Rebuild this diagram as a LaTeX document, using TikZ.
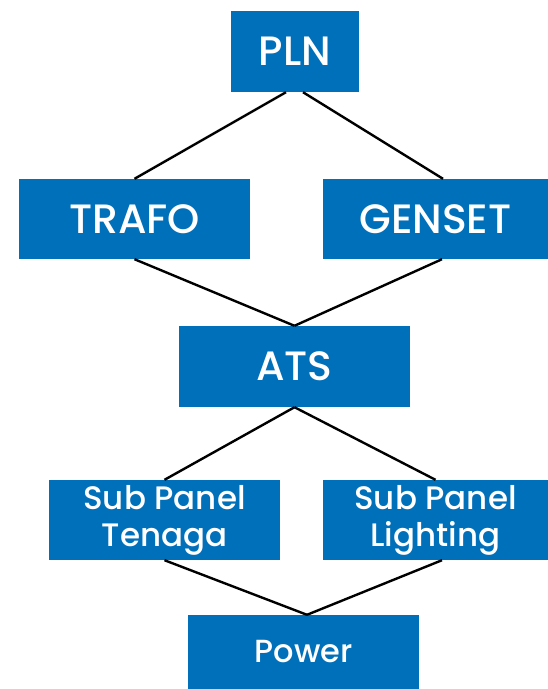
\documentclass[tikz,border=0pt]{standalone}
\usepackage{fontspec}
\setmainfont{Poppins}[UprightFont={* Medium}]
\definecolor{boxblue}{HTML}{0070BA}
\tikzset{
  blk/.style={rectangle, fill=boxblue, text=white, inner sep=0pt, align=center, font=\fontsize{41}{41}\selectfont},
  sblk/.style={blk, font=\fontsize{32.5}{37}\selectfont},
  pblk/.style={blk, font=\fontsize{32}{34}\selectfont},
  conn/.style={draw=black, line width=2.4pt}
}
\begin{document}
\begin{tikzpicture}[x=1pt,y=-1pt]
\useasboundingbox (0,0) rectangle (548,689);
\node[blk, minimum width=128pt, minimum height=81pt] (pln) at (295,51.5) {PLN};
\node[blk, minimum width=231pt, minimum height=80pt] (trafo) at (134.5,219) {TRAFO};
\node[blk, minimum width=225pt, minimum height=80pt] (genset) at (435.5,219) {GENSET};
\node[blk, minimum width=231pt, minimum height=81pt] (ats) at (294.5,366.5) {ATS};
\node[sblk, minimum width=231pt, minimum height=80pt] (tenaga) at (164.5,520) {Sub Panel\\Tenaga};
\node[sblk, minimum width=225pt, minimum height=80pt] (lighting) at (435.5,520) {Sub Panel\\Lighting};
\node[pblk, minimum width=231pt, minimum height=74pt] (power) at (303.5,652) {Power};
\draw[conn] ([xshift=-9pt]pln.south) -- (trafo.north);
\draw[conn] ([xshift=8pt]pln.south) -- ([xshift=7.5pt]genset.north);
\draw[conn] (trafo.south) -- (ats.north);
\draw[conn] ([xshift=6.5pt]genset.south) -- (ats.north);
\draw[conn] (ats.south) -- (tenaga.north);
\draw[conn] (ats.south) -- (lighting.north);
\draw[conn] (tenaga.south) -- ([xshift=3.5pt]power.north);
\draw[conn] ([xshift=6.5pt]lighting.south) -- ([xshift=3.5pt]power.north);
\end{tikzpicture}
\end{document}
